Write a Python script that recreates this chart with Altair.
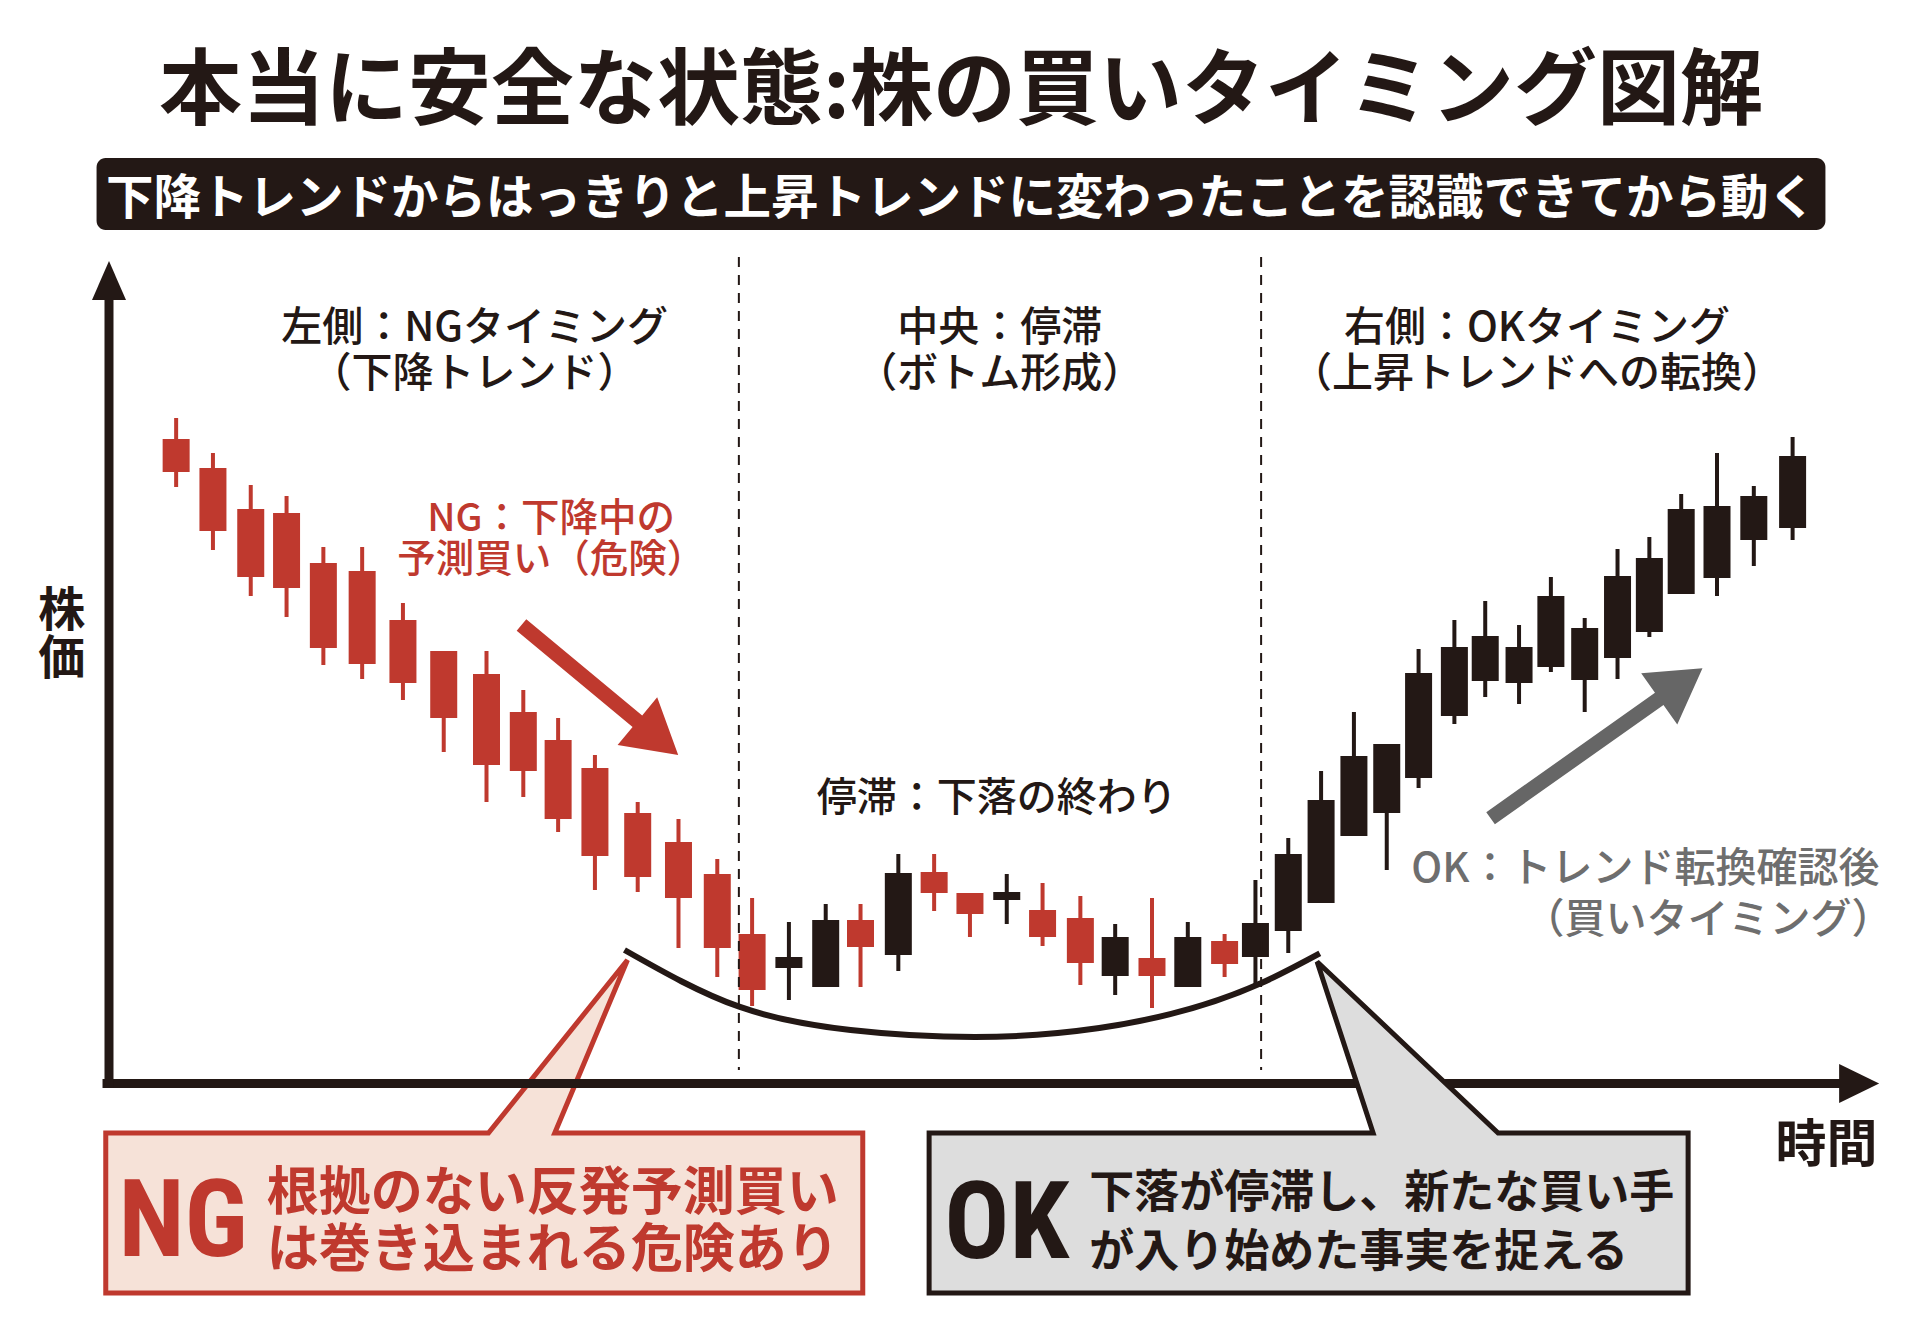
import math
import altair as alt
import pandas as pd

# ---------------- data ----------------
# position of each session on the time axis, and its OHLC prices (price units)
day = [69, 106, 144, 180, 217, 256, 297, 338, 381, 418,
       453, 490, 533, 574, 613, 648, 685, 722, 757, 795,
       831, 867, 904, 940, 978, 1013, 1050, 1086, 1123, 1154,
       1187, 1220, 1253, 1286, 1318, 1354, 1385, 1419, 1451, 1485,
       1518, 1550, 1582, 1618, 1655, 1694]
open_ = [644, 615, 574, 570, 520, 512, 463, 432, 409, 371,
         343, 315, 270, 241, 209, 149, 115, 96, 163, 128,
         211, 190, 183, 173, 165, 107, 125, 96, 142, 126,
         152, 180, 247, 270, 305, 367, 402, 400, 416, 403,
         425, 451, 489, 505, 543, 555]
high_ = [665, 630, 598, 587, 536, 536, 480, 432, 432, 393,
         365, 328, 281, 264, 224, 185, 161, 179, 179, 229,
         229, 190, 209, 200, 187, 159, 185, 161, 149, 203,
         245, 312, 371, 339, 434, 463, 482, 458, 506, 465,
         534, 546, 589, 630, 597, 646]
low_ = [596, 533, 487, 466, 418, 404, 383, 331, 281, 286,
        251, 193, 191, 135, 106, 77, 83, 96, 96, 112,
        172, 146, 159, 137, 98, 88, 75, 96, 106, 96,
        130, 180, 247, 213, 295, 359, 386, 379, 411, 371,
        404, 446, 489, 487, 517, 543]
close_ = [611, 552, 506, 495, 435, 419, 400, 365, 318, 312,
          264, 227, 206, 185, 135, 93, 126, 163, 136, 210,
          190, 169, 191, 146, 120, 146, 107, 146, 119, 160,
          229, 283, 327, 339, 410, 436, 447, 436, 487, 455,
          507, 525, 574, 577, 587, 627]

# guide curve under the bottom (time, price)
bowl_t = [519.7, 635, 747, 872, 997, 1160, 1218.7]
bowl_p = [133, 76.3, 53, 46, 55, 100, 129.7]

# section boundaries on the time axis
section_t = [634.7, 1159.7]

title_text = "本当に安全な状態:株の買いタイミング図解"
subtitle_text = "下降トレンドからはっきりと上昇トレンドに変わったことを認識できてから動く"

# ---------------- styling / layout ----------------
RED = "#BF392E"
BLACK = "#231815"
PINK = "#F6E2D8"
LGRAY = "#DDDDDD"
DGRAY = "#666666"
TGRAY = "#6E6E6E"
JP = "Noto Sans CJK JP"
NARROW = "Liberation Sans Narrow, Roboto Condensed, Arial Narrow, sans-serif"

W, H = 1904, 1314
X_ORIGIN, Y_ORIGIN = 103, 1083   # page position of time 0 / price 0


def T(xp):
    return xp - X_ORIGIN


def P(yp):
    return Y_ORIGIN - yp


xs = alt.Scale(domain=[T(8), T(8 + W)], nice=False, zero=False)
ys = alt.Scale(domain=[P(8 + H), P(8)], nice=False, zero=False)


def X(f):
    return alt.X(f, type="quantitative", scale=xs, axis=None)


def Y(f):
    return alt.Y(f, type="quantitative", scale=ys, axis=None)


def rel_path(points, anchor):
    ax, ay = anchor
    return "M" + "L".join(f"{x - ax:.1f},{y - ay:.1f}" for x, y in points) + "Z"


def arrow_points(S, Tp, sh, hl, hh):
    dx, dy = Tp[0] - S[0], Tp[1] - S[1]
    L = math.hypot(dx, dy)
    ux, uy = dx / L, dy / L
    nx, ny = -uy, ux
    bx, by = Tp[0] - hl * ux, Tp[1] - hl * uy
    return [(S[0] + sh * nx, S[1] + sh * ny), (bx + sh * nx, by + sh * ny),
            (bx + hh * nx, by + hh * ny), Tp, (bx - hh * nx, by - hh * ny),
            (bx - sh * nx, by - sh * ny), (S[0] - sh * nx, S[1] - sh * ny)]


def shape_layer(points, anchor, fill, stroke=None, sw=0):
    df = pd.DataFrame({"t": [T(anchor[0])], "p": [P(anchor[1])]})
    kw = dict(shape=rel_path(points, anchor), size=4, filled=True, fill=fill,
              opacity=1, fillOpacity=1, strokeJoin="miter")
    if stroke:
        kw.update(stroke=stroke, strokeWidth=sw, strokeOpacity=1)
    else:
        kw.update(strokeWidth=0)
    return alt.Chart(df).mark_point(**kw).encode(x=X("t"), y=Y("p"))


def text_layer(rows, size, color, weight="normal", align="center", font=JP, k=0.08):
    df = pd.DataFrame([{"t": T(x), "p": P(y + k * size), "label": s} for s, x, y in rows])
    return alt.Chart(df).mark_text(font=font, fontSize=size, fontWeight=weight,
                                   color=color, align=align, baseline="middle").encode(
        x=X("t"), y=Y("p"), text="label:N")


def block_layer(rows, size, lh, color, weight="normal", align="center", font=JP):
    # rows: (lines, x, glyph-centre y of first line); multi-line text block, top-anchored
    df = pd.DataFrame([{"t": T(x), "p": P(y - 0.41 * size), "label": "\n".join(lines)}
                       for lines, x, y in rows])
    return alt.Chart(df).mark_text(font=font, fontSize=size, fontWeight=weight, lineBreak="\n",
                                   lineHeight=lh, color=color, align=align, baseline="top").encode(
        x=X("t"), y=Y("p"), text="label:N")


# ---------------- candles ----------------
cdf = pd.DataFrame({"day": day, "open": open_, "high": high_, "low": low_, "close": close_})
cdf["dir"] = ["down" if c < o else "up" for o, c in zip(open_, close_)]
cscale = alt.Scale(domain=["down", "up"], range=[RED, BLACK])

wicks = alt.Chart(cdf).mark_rule(strokeWidth=4).encode(
    x=X("day"), y=Y("low"), y2=alt.Y2("high"),
    color=alt.Color("dir:N", scale=cscale, legend=None))
bodies = alt.Chart(cdf).mark_bar(size=27).encode(
    x=X("day"), y=Y("open"), y2=alt.Y2("close"),
    color=alt.Color("dir:N", scale=cscale, legend=None))

# ---------------- frame elements ----------------
sub_rect = alt.Chart(pd.DataFrame({"t1": [T(92)], "t2": [T(1830)], "p1": [P(158)], "p2": [P(230)]})).mark_rect(
    cornerRadius=9, color=BLACK).encode(x=X("t1"), x2=alt.X2("t2"), y=Y("p1"), y2=alt.Y2("p2"))

dashed = alt.Chart(pd.DataFrame({"t": section_t, "p1": [P(257)] * 2, "p2": [P(1070)] * 2})).mark_rule(
    strokeDash=[10, 8], strokeWidth=2, color=BLACK).encode(x=X("t"), y=Y("p1"), y2=alt.Y2("p2"))

y_axis = alt.Chart(pd.DataFrame({"t": [T(104.5)], "p1": [P(1088)], "p2": [P(295)]})).mark_rule(
    strokeWidth=9, color=BLACK).encode(x=X("t"), y=Y("p1"), y2=alt.Y2("p2"))
x_axis = alt.Chart(pd.DataFrame({"t1": [T(98)], "t2": [T(1848)], "p": [P(1083.5)]})).mark_rule(
    strokeWidth=9, color=BLACK).encode(x=X("t1"), x2=alt.X2("t2"), y=Y("p"))

y_head = shape_layer([(104.5, 261), (121.5, 300), (87.5, 300)], (104.5, 261), BLACK)
x_head = shape_layer([(1884, 1083.5), (1844, 1064), (1844, 1103)], (1884, 1083.5), BLACK)

ng_call = shape_layer([(104, 1133), (486.7, 1133), (625.7, 960), (553, 1133), (861, 1133),
                       (861, 1293), (104, 1293)], (625.7, 960), PINK, RED, 5)
ok_call = shape_layer([(931, 1133), (1375, 1133), (1319, 961.7), (1500, 1133), (1690, 1133),
                       (1690, 1293), (931, 1293)], (1319, 961.7), LGRAY, BLACK, 5)

bowl = alt.Chart(pd.DataFrame({"t": bowl_t, "p": bowl_p})).mark_line(
    color=BLACK, strokeWidth=6, interpolate="monotone", strokeCap="butt").encode(x=X("t"), y=Y("p"))

red_arrow = shape_layer(arrow_points((520, 625), (676.7, 755), 7.5, 53, 31), (676.7, 755), RED)
gray_arrow = shape_layer(arrow_points((1494.5, 818.2), (1706.4, 668.2), 7.4, 53, 31.3), (1706.4, 668.2), DGRAY)

# ---------------- texts ----------------
title = text_layer([(title_text, 961, 86)], 83, BLACK, "bold")
subtitle = text_layer([(subtitle_text, 961, 196)], 47.5, "white", "bold")
headers = block_layer([(["左側：NGタイミング", "（下降トレンド）"], 472, 326),
                       (["中央：停滞", "（ボトム形成）"], 1000, 326),
                       (["右側：OKタイミング", "（上昇トレンドへの転換）"], 1540, 326)],
                      41, 46, BLACK, 500)
red_note = block_layer([(["NG：下降中の", "予測買い（危険）"], 549, 517)], 38.5, 41, RED, 500)
mid_note = text_layer([("停滞：下落の終わり", 997, 796)], 40, BLACK, 500)
ok_note = text_layer([("OK：トレンド転換確認後", 1649, 867), ("（買いタイミング）", 1712, 918)], 41, TGRAY, 500)
y_label = block_layer([(["株", "価"], 57, 608)], 47, 48, BLACK, "bold")
x_label = text_layer([("時間", 1831, 1143)], 51, BLACK, "bold")

ng_big = text_layer([("NG", 179, 1217)], 108, RED, "bold", font=NARROW, k=0.065)
ok_big = text_layer([("OK", 1007, 1219)], 108, BLACK, "bold", font=NARROW, k=0.065)
ng_lines = block_layer([(["根拠のない反発予測買い", "は巻き込まれる危険あり"], 263, 1190)],
                       52, 57, RED, "bold", align="left")
ok_lines = block_layer([(["下落が停滞し、新たな買い手", "が入り始めた事実を捉える"], 1090, 1190)],
                       45, 59, BLACK, "bold", align="left")

chart = alt.layer(
    sub_rect, ng_call, x_axis, y_axis, y_head, x_head, ok_call,
    wicks, bodies, dashed, bowl, red_arrow, gray_arrow,
    title, subtitle, headers, red_note, mid_note, ok_note, y_label, x_label,
    ng_big, ok_big, ng_lines, ok_lines,
).properties(
    width=W, height=H, padding=0, background="white",
    autosize=alt.AutoSizeParams(type="none"),
).configure_view(stroke=None)

chart.save("out.html", embed_options={"renderer": "svg", "actions": False})
